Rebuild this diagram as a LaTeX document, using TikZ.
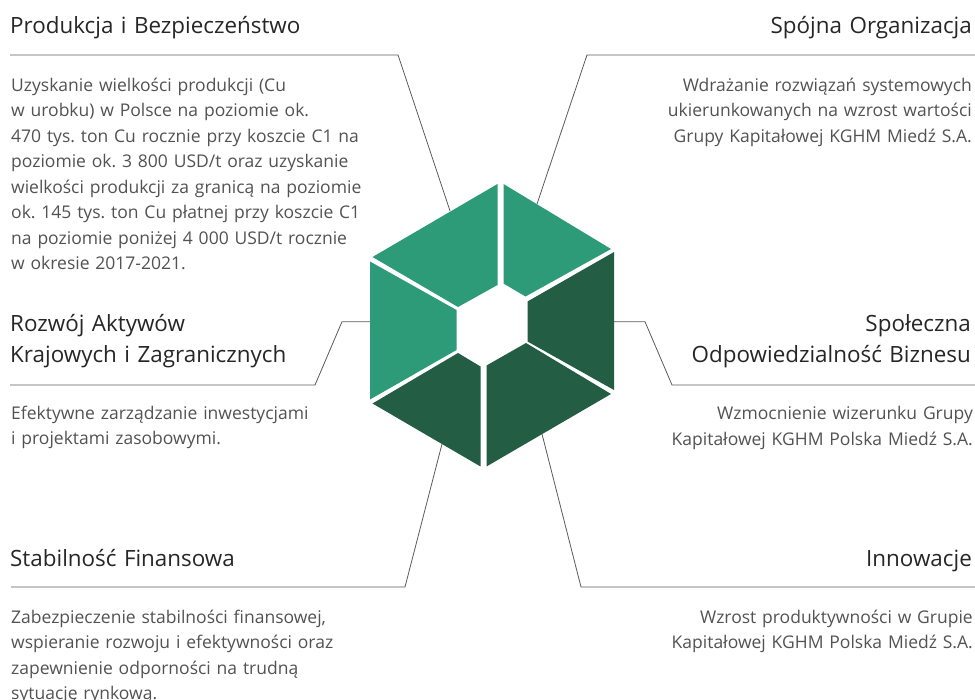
\documentclass[tikz,border=0pt]{standalone}
\usepackage{fontspec}
\setmainfont{Open Sans}
\frenchspacing
\definecolor{hexlight}{HTML}{2E9B78}
\definecolor{hexdark}{HTML}{225D44}
\definecolor{leadgray}{HTML}{5A5A5A}
\begin{document}
\begin{tikzpicture}[x=1pt, y=-1pt,
    title/.style={font=\fontsize{22.4}{31}\selectfont, text=black!85, inner sep=0, text width=420pt},
    body/.style={font=\fontsize{17.5}{25.5}\selectfont, text=black!68, inner sep=0, text width=420pt},
    lefttext/.style={anchor=base west, align=left},
    righttext/.style={anchor=base east, align=right},
    leader/.style={draw=leadgray, line width=0.8pt},
    light/.style={fill=hexlight},
    dark/.style={fill=hexdark}]
  \useasboundingbox (0,0) rectangle (975,700);
  % Leader lines
  \coordinate (prodEnd) at (10,55);   \coordinate (prodBend) at (398,55);  \coordinate (prodPin) at (450,211);
  \coordinate (orgEnd) at (975,55);   \coordinate (orgBend) at (587,55);   \coordinate (orgPin) at (537,204);
  \coordinate (devEnd) at (10,385);   \coordinate (devBend) at (315,385);  \coordinate (devKnee) at (342,321.7); \coordinate (devPin) at (371,321.7);
  \coordinate (csrEnd) at (975,385);  \coordinate (csrBend) at (672,385);  \coordinate (csrKnee) at (645,321.7); \coordinate (csrPin) at (613,321.7);
  \coordinate (finEnd) at (11,587);   \coordinate (finBend) at (405,587);  \coordinate (finPin) at (442,444);
  \coordinate (innEnd) at (975,587);  \coordinate (innBend) at (581,587);  \coordinate (innPin) at (542,434);
  \draw[leader] (prodEnd) -- (prodBend) -- (prodPin);
  \draw[leader] (orgEnd) -- (orgBend) -- (orgPin);
  \draw[leader] (devEnd) -- (devBend) -- (devKnee) -- (devPin);
  \draw[leader] (csrEnd) -- (csrBend) -- (csrKnee) -- (csrPin);
  \draw[leader] (finEnd) -- (finBend) -- (finPin);
  \draw[leader] (innEnd) -- (innBend) -- (innPin);
  % Hexagon pieces
  \fill[light] (372.5,257) -- (497.5,184) -- (497.5,285) -- (458,307) -- cycle;
  \fill[light] (503.5,184) -- (611,249) -- (525.5,296.5) -- (503.5,283.5) -- cycle;
  \fill[dark] (614,252) -- (614,390) -- (527.5,341.5) -- (527.5,301.5) -- cycle;
  \fill[dark] (611,394) -- (486.5,466.5) -- (486.5,365.5) -- (526,343) -- cycle;
  \fill[dark] (480.5,466.5) -- (372.5,403.5) -- (458,353) -- (480.5,366.5) -- cycle;
  \fill[light] (370,261.5) -- (456.5,310) -- (456.5,350) -- (370,399.5) -- cycle;
  % Texts
  \node[title, lefttext] (prodTitle) at (10,34) {Produkcja i Bezpieczeństwo};
  \node[body, lefttext] (prodText) at (11,91.5) {Uzyskanie wielkości produkcji (Cu\\
    w urobku) w Polsce na poziomie ok.\\
    470 tys. ton Cu rocznie przy koszcie C1 na\\
    poziomie ok. 3 800 USD/t oraz uzyskanie\\
    wielkości produkcji za granicą na poziomie\\
    ok. 145 tys. ton Cu płatnej przy koszcie C1\\
    na poziomie poniżej 4 000 USD/t rocznie\\
    w okresie 2017-2021.};
  \node[title, righttext] (orgTitle) at (972,34) {Spójna Organizacja};
  \node[body, righttext] (orgText) at (972,91.5) {Wdrażanie rozwiązań systemowych\\
    ukierunkowanych na wzrost wartości\\
    Grupy Kapitałowej KGHM Miedź S.A.};
  \node[title, lefttext] (devTitle) at (10,331.5) {Rozwój Aktywów\\Krajowych i Zagranicznych};
  \node[body, lefttext] (devText) at (11,419.5) {Efektywne zarządzanie inwestycjami\\
    i projektami zasobowymi.};
  \node[title, righttext] (csrTitle) at (971,331.5) {Społeczna\\Odpowiedzialność Biznesu};
  \node[body, righttext] (csrText) at (973,420) {Wzmocnienie wizerunku Grupy\\
    Kapitałowej KGHM Polska Miedź S.A.};
  \node[title, lefttext] (finTitle) at (10,566.5) {Stabilność Finansowa};
  \node[body, lefttext] (finText) at (11,623) {Zabezpieczenie stabilności finansowej,\\
    wspieranie rozwoju i efektywności oraz\\
    zapewnienie odporności na trudną\\
    sytuację rynkową.};
  \node[title, righttext] (innTitle) at (972,566.5) {Innowacje};
  \node[body, righttext] (innText) at (973,623) {Wzrost produktywności w Grupie\\
    Kapitałowej KGHM Polska Miedź S.A.};
\end{tikzpicture}
\end{document}
